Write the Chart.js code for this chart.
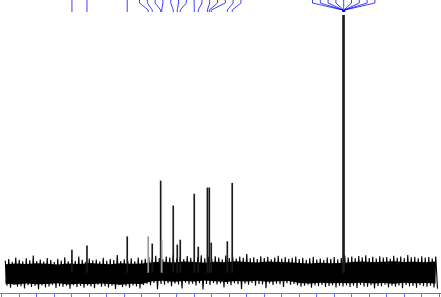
<!DOCTYPE html>
<html>
<head>
<meta charset="utf-8">
<script src="https://cdn.jsdelivr.net/npm/chart.js@4.4.0/dist/chart.umd.min.js"></script>
<style>
  html, body { margin: 0; padding: 0; background: #fff; overflow: hidden; }
  #wrap { width: 441px; height: 297px; }
</style>
</head>
<body>
<div id="wrap"><canvas id="nmr" width="441" height="297"></canvas></div>
<script>
// resolved peaks: chemical shift (ppm) and height (solvent = 100)
const peakShifts = [194.9, 186.3, 163.3, 151.3, 149.0, 144.2, 143.6, 137.0, 134.7, 133.0, 125.0, 122.7, 117.5, 116.4, 115.3, 106.1, 103.3];
const peakHeights = [8.7, 10.4, 13.9, 13.9, 11.1, 35.6, 12.4, 25.9, 10.7, 12.6, 30.5, 9.9, 32.9, 32.9, 11.5, 12.0, 34.7];
const faintPeaks = [151.3, 143.6];

// solvent multiplet lines (labelled) and the single tall line they make
const solventShifts = [40.2, 40.0, 39.9, 39.7, 39.6, 39.5, 39.3, 39.2, 39.0];
const solventShift = 39.7;
const solventHeight = 100;

// baseline noise, upper swings at odd ppm 233..-13, lower swings at even ppm 232..-14
const noiseHigh = [
  4.6, 5.2, 4.1, 5.8, 4.9, 4.3, 5.5, 4.7, 6.6, 4.4, 5.0, 4.2, 5.6, 4.8, 4.0, 5.3, 4.6, 5.9, 4.3, 5.1,
  4.5, 6.2, 4.9, 4.1, 5.4, 4.7, 5.0, 4.2, 5.7, 4.5, 5.2, 4.8, 6.8, 4.4, 5.1, 4.6, 5.5, 4.3, 5.8, 4.9, 5.3,
  6.0, 5.3, 6.5, 5.6, 5.1, 6.2, 5.8, 6.9, 5.4, 6.1, 5.2, 6.4, 5.7, 5.0, 5.9, 6.7, 5.5, 6.1, 5.3, 6.3,
  5.8, 5.1, 6.6, 5.6, 6.0, 5.4, 6.2, 5.7, 7.2, 5.5, 5.9, 5.2, 6.3, 5.6, 6.1, 5.1, 5.8, 6.5, 5.4, 6.0,
  5.3, 5.7, 6.2,
  5.2, 5.7, 4.9, 5.5, 6.1, 5.0, 5.4, 4.8, 5.8, 5.3, 6.0, 5.1, 5.6,
  6.6, 5.8, 6.2, 5.5, 6.4, 5.9, 6.7, 5.6, 6.1, 5.4, 6.3, 5.8, 6.0, 5.3, 6.5, 5.7, 6.2, 5.6, 6.8, 5.9,
  6.1, 5.5, 6.3, 5.8, 6.0, 5.4, 6.2
];
const noiseLow = [
  -5.2, -5.9, -4.8, -5.6, -5.4, -6.2, -5.0, -5.7, -5.3, -6.5, -5.1, -5.8, -5.5, -4.9, -6.0, -5.4, -5.6, -5.2, -6.3, -5.0,
  -5.7, -5.3, -5.9, -5.1, -5.5, -6.1, -4.8, -5.6, -5.4, -5.8, -5.2, -6.4, -5.0, -5.7, -5.3, -5.9, -5.1, -5.5, -6.2, -4.9,
  -4.4, -5.0, -4.1, -6.5, -4.5, -4.8, -4.2, -5.4, -4.3, -4.7, -6.2, -4.0, -4.6, -4.4, -5.1, -4.2, -6.6, -4.5, -4.9, -4.1,
  -4.7, -4.3, -5.8, -4.5, -5.0, -4.2, -4.6, -6.4, -4.4, -4.8, -4.1, -5.2, -4.5, -4.7, -6.1, -4.3, -4.9, -4.4, -4.6, -5.7,
  -4.2, -4.8, -4.5,
  -5.0, -5.6, -5.2, -4.8, -5.9, -5.1, -5.4, -4.9, -5.7, -5.3, -5.0, -5.8, -5.2, -5.5,
  -5.1, -5.7, -5.2, -6.0, -4.9, -5.5, -5.6, -5.0, -6.2, -5.3, -5.4, -4.8, -5.8, -5.2, -5.6, -5.1, -6.1, -4.9, -5.5, -5.3,
  -5.9, -5.0, -5.4, -5.6, -5.2, -5.8, -6.3
];

// solid core of the noise band, every 6 ppm from 233 to -13
const coreTop = [
  3.2, 3.5, 3.3, 3.6, 3.4, 3.1, 3.5, 3.3, 3.7, 3.4, 3.2, 3.6, 3.4, 3.5,
  4.0, 4.2, 3.9, 4.3, 4.1, 3.8, 4.2, 4.0, 4.4, 4.1, 3.9, 4.3, 4.1, 4.0,
  3.7, 3.5, 3.8, 3.6, 3.7,
  4.1, 4.3, 4.0, 4.2, 4.4, 4.1, 4.2, 4.0, 4.3
];
const coreBottom = [
  -4.4, -4.7, -4.3, -4.6, -4.5, -4.2, -4.7, -4.4, -4.6, -4.3, -4.5, -4.8, -4.4, -4.5,
  -3.4, -3.2, -3.6, -3.3, -3.5, -3.1, -3.4, -3.7, -3.3, -3.5, -3.2, -3.6, -3.4, -3.3,
  -4.1, -4.3, -4.0, -4.2, -4.1,
  -4.2, -4.0, -4.3, -4.1, -4.4, -4.0, -4.2, -4.1, -4.3
];

// axis range in ppm (reversed, high field on the right)
const ppmMin = -16;
const ppmMax = 236;

// the spectrum trace: noise zig-zag between the two swing lists
const trace = [];
for (let i = 0; i < noiseHigh.length; i++) {
  trace.push({ x: 233 - 2 * i, y: noiseHigh[i] });
  trace.push({ x: 232 - 2 * i, y: noiseLow[i] });
}
const coreTopPts = coreTop.map((v, k) => ({ x: 233 - 6 * k, y: v }));
const coreBottomPts = coreBottom.map((v, k) => ({ x: 233 - 6 * k, y: v }));

const peakBars = peakShifts.map((s, i) => ({ x: s, y: [0, peakHeights[i]] }));
const peakColors = peakShifts.map(s => faintPeaks.includes(s) ? '#9a9a9a' : '#1a1a1a');

// leader lines of the peak labels (labels themselves sit above the visible area)
const peakLabels = {
  id: 'peakLabels',
  afterDatasetsDraw(chart) {
    const xs = chart.scales.x;
    const top = chart.chartArea.top;
    const ctx = chart.ctx;
    const gap = 7.8;
    const px = peakShifts.concat(solventShifts)
      .sort((a, b) => b - a)
      .map(s => xs.getPixelForValue(s));
    const centre = g => (g[0] + g[g.length - 1]) / 2;

    // merge neighbouring labels (right to left) until they no longer collide
    let groups = px.map(p => [p]);
    let merged = true;
    while (merged) {
      merged = false;
      for (let i = groups.length - 2; i >= 0; i--) {
        const a = groups[i], b = groups[i + 1];
        const aRight = centre(a) + (a.length - 1) * gap / 2;
        const bLeft = centre(b) - (b.length - 1) * gap / 2;
        if (bLeft - aRight < gap) {
          groups.splice(i, 2, a.concat(b));
          merged = true;
          break;
        }
      }
    }

    ctx.save();
    ctx.strokeStyle = 'rgba(0, 0, 255, 0.75)';
    ctx.lineWidth = 1;
    groups.forEach(g => {
      const start = centre(g) - (g.length - 1) * gap / 2;
      g.forEach((p, k) => {
        const tx = start + k * gap;
        ctx.beginPath();
        ctx.moveTo(tx, top);
        ctx.lineTo(tx, top + 3);
        ctx.lineTo(p, top + 10);
        ctx.lineTo(p, top + 12);
        ctx.stroke();
      });
    });
    ctx.restore();
  }
};

new Chart(document.getElementById('nmr').getContext('2d'), {
  type: 'line',
  data: {
    datasets: [
      {
        type: 'bar',
        data: [{ x: solventShift, y: [0, solventHeight] }],
        backgroundColor: '#1a1a1a',
        barThickness: 2,
        grouped: false
      },
      {
        type: 'bar',
        data: peakBars,
        backgroundColor: peakColors,
        barThickness: 1,
        grouped: false
      },
      {
        data: trace,
        borderColor: '#000',
        borderWidth: 1.1,
        pointRadius: 0,
        tension: 0,
        fill: false
      },
      {
        data: coreTopPts,
        borderWidth: 0,
        borderColor: 'rgba(0,0,0,0)',
        backgroundColor: '#000',
        pointRadius: 0,
        tension: 0,
        fill: '+1'
      },
      {
        data: coreBottomPts,
        borderWidth: 0,
        borderColor: 'rgba(0,0,0,0)',
        pointRadius: 0,
        tension: 0,
        fill: false
      }
    ]
  },
  options: {
    responsive: false,
    animation: false,
    layout: { padding: 0 },
    plugins: { legend: { display: false }, tooltip: { enabled: false } },
    scales: {
      x: {
        type: 'linear',
        reverse: true,
        min: ppmMin,
        max: ppmMax,
        offset: false,
        ticks: { display: false, stepSize: 10, includeBounds: false },
        grid: { drawOnChartArea: false, drawTicks: true, tickLength: 4, color: '#6a6aff' },
        border: { color: '#6a6aff' }
      },
      y: {
        display: false,
        min: -8,
        max: 106
      }
    }
  },
  plugins: [peakLabels]
});
</script>
</body>
</html>
